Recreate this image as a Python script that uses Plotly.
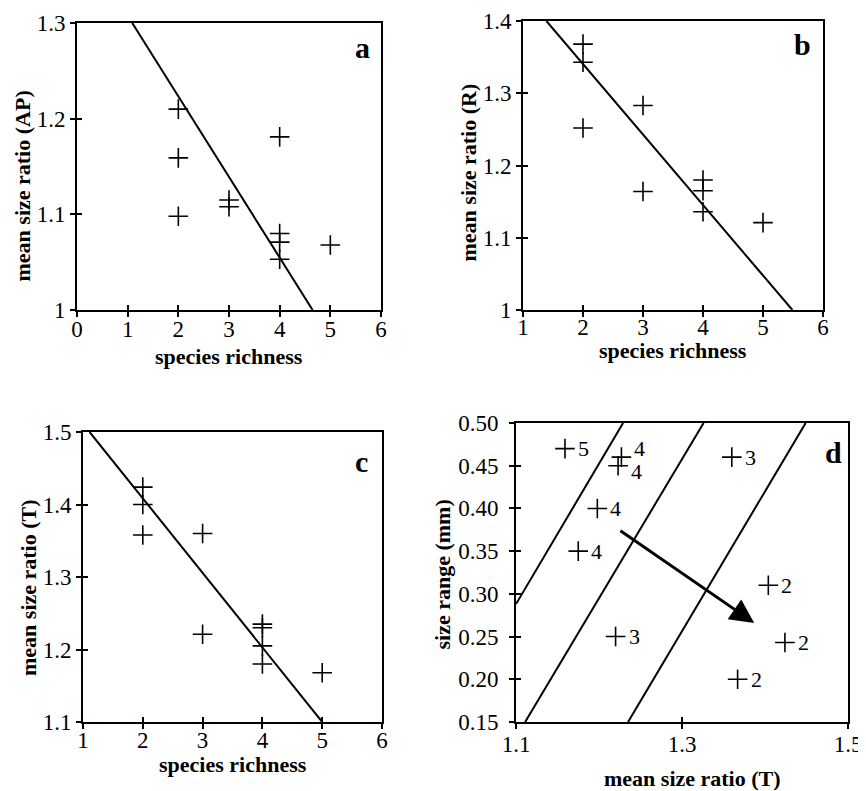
import plotly.graph_objects as go

FONT = "Liberation Serif, Times New Roman, serif"

# ---- data ----
# panel a
a_richness = [2, 2, 2, 3, 3, 4, 4, 4, 4, 5]
a_ratio = [1.210, 1.159, 1.098, 1.115, 1.108, 1.181, 1.080, 1.071, 1.053, 1.068]
a_fit_x = [1.09, 4.65]
a_fit_y = [1.30, 1.00]

# panel b
b_richness = [2, 2, 2, 3, 3, 4, 4, 4, 5]
b_ratio = [1.368, 1.343, 1.252, 1.283, 1.164, 1.180, 1.165, 1.136, 1.121]
b_fit_x = [1.39, 5.49]
b_fit_y = [1.40, 1.00]

# panel c
c_richness = [2, 2, 2, 3, 3, 4, 4, 4, 4, 5]
c_ratio = [1.424, 1.400, 1.358, 1.360, 1.221, 1.235, 1.230, 1.205, 1.180, 1.168]
c_fit_x = [1.11, 5.00]
c_fit_y = [1.50, 1.10]

# panel d
d_ratio = [1.159, 1.227, 1.223, 1.198, 1.175, 1.220, 1.360, 1.404, 1.424, 1.367]
d_range = [0.470, 0.460, 0.450, 0.400, 0.350, 0.250, 0.460, 0.310, 0.243, 0.200]
d_richness = [5, 4, 4, 4, 4, 3, 3, 2, 2, 2]
d_label_dy = [0, 9, -6, 0, 0, 0, 0, 0, 0, 0]
d_iso_x = [[1.100, 1.229], [1.111, 1.326], [1.235, 1.449]]
d_iso_y = [[0.288, 0.500], [0.150, 0.500], [0.150, 0.500]]
d_arrow_x = [1.224, 1.387]
d_arrow_y = [0.375, 0.266]


def ax_id(letter, n):
    return letter if n == 1 else f"{letter}{n}"


# ---- page geometry (the page body adds an 8px offset) ----
OFF = 8
FIG_W = 866 - OFF
FIG_H = 791 - OFF


def xdom(left, right):
    return [(left - OFF) / FIG_W, (right - OFF) / FIG_W]


def ydom(top, bottom):
    return [1 - (bottom - OFF) / FIG_H, 1 - (top - OFF) / FIG_H]


panels = [
    dict(xd=xdom(77, 381), yd=ydom(23, 310), xr=[0, 6], yr=[1.0, 1.3],
         xt=[0, 1, 2, 3, 4, 5, 6], yt=[1.0, 1.1, 1.2, 1.3], yfmt="",
         xso=3, yso=0,
         ytitle="mean size ratio (AP)", xtitle="species richness",
         letter="a", lx=0.94, ly=0.913, ytshift=-55, ytyshift=-20, xtshift=-46, xtx=0),
    dict(xd=xdom(523, 823), yd=ydom(21, 310), xr=[1, 6], yr=[1.0, 1.4],
         xt=[1, 2, 3, 4, 5, 6], yt=[1.0, 1.1, 1.2, 1.3, 1.4], yfmt="",
         xso=1, yso=0,
         ytitle="mean size ratio (R)", xtitle="species richness",
         letter="b", lx=0.933, ly=0.92, ytshift=-55, ytyshift=-7, xtshift=-40, xtx=0),
    dict(xd=xdom(83, 382), yd=ydom(432, 722), xr=[1, 6], yr=[1.1, 1.5],
         xt=[1, 2, 3, 4, 5, 6], yt=[1.1, 1.2, 1.3, 1.4, 1.5], yfmt="",
         xso=2, yso=0,
         ytitle="mean size ratio (T)", xtitle="species richness",
         letter="c", lx=0.933, ly=0.897, ytshift=-55, ytyshift=-11, xtshift=-42, xtx=0),
    dict(xd=xdom(516, 848), yd=ydom(423, 722), xr=[1.1, 1.5], yr=[0.15, 0.5],
         xt=[1.1, 1.3, 1.5], yt=[0.15, 0.2, 0.25, 0.3, 0.35, 0.4, 0.45, 0.5], yfmt=".2f",
         xso=6, yso=6,
         ytitle="size range (mm)", xtitle="mean size ratio (T)",
         letter="d", lx=0.955, ly=0.9, ytshift=-74, ytyshift=-2, xtshift=-56, xtx=10),
]

fig = go.Figure()

marker = dict(symbol="cross-thin", size=14, color="black", line=dict(width=1.6, color="black"))

scatter_data = [(a_richness, a_ratio), (b_richness, b_ratio), (c_richness, c_ratio)]
fit_data = [(a_fit_x, a_fit_y), (b_fit_x, b_fit_y), (c_fit_x, c_fit_y)]

for i in range(3):
    n = i + 1
    xs, ys = scatter_data[i]
    fx, fy = fit_data[i]
    fig.add_trace(go.Scatter(x=fx, y=fy, mode="lines", line=dict(color="black", width=2),
                             xaxis=ax_id("x", n), yaxis=ax_id("y", n), showlegend=False))
    fig.add_trace(go.Scatter(x=xs, y=ys, mode="markers", marker=marker,
                             xaxis=ax_id("x", n), yaxis=ax_id("y", n), showlegend=False,
                             cliponaxis=False))

for lx, ly in zip(d_iso_x, d_iso_y):
    fig.add_trace(go.Scatter(x=lx, y=ly, mode="lines", line=dict(color="black", width=2),
                             xaxis="x4", yaxis="y4", showlegend=False))
fig.add_trace(go.Scatter(x=d_ratio, y=d_range, mode="markers", marker=marker,
                         xaxis="x4", yaxis="y4", showlegend=False, cliponaxis=False))

# empty traces for overlay axes (inside ticks)
for i in range(4):
    fig.add_trace(go.Scatter(x=[], y=[], xaxis=f"x{i+5}", yaxis=f"y{i+5}", showlegend=False))

annotations = []
layout = dict(
    width=FIG_W, height=FIG_H,
    autosize=False,
    margin=dict(l=0, r=0, t=0, b=0, pad=0, autoexpand=False),
    paper_bgcolor="white", plot_bgcolor="white",
    font=dict(family=FONT, size=22, color="black"),
)

for i, p in enumerate(panels):
    n = i + 1
    m = i + 5
    common = dict(showgrid=False, zeroline=False, linecolor="black", linewidth=2,
                  tickcolor="black", tickwidth=1.5, ticklen=5, automargin=False)
    xk = "xaxis" if n == 1 else f"xaxis{n}"
    yk = "yaxis" if n == 1 else f"yaxis{n}"
    tf = dict(family=FONT, size=23, color="black")
    layout[xk] = dict(domain=p["xd"], range=p["xr"], anchor=ax_id("y", n), mirror=True,
                      showline=True, ticks="outside", tickvals=p["xt"],
                      showticklabels=False, **common)
    layout[yk] = dict(domain=p["yd"], range=p["yr"], anchor=ax_id("x", n), mirror=True,
                      showline=True, ticks="outside", tickvals=p["yt"],
                      tickformat=p["yfmt"], showticklabels=True, tickfont=tf,
                      ticklabelstandoff=p["yso"], **common)
    layout[f"xaxis{m}"] = dict(domain=p["xd"], range=p["xr"], anchor=f"y{m}",
                               overlaying=ax_id("x", n),
                               showline=False, ticks="inside", tickvals=p["xt"],
                               showticklabels=True, tickfont=tf,
                               ticklabelstandoff=p["xso"], **common)
    layout[f"yaxis{m}"] = dict(domain=p["yd"], range=p["yr"], anchor=f"x{m}",
                               overlaying=ax_id("y", n),
                               showline=False, ticks="inside", tickvals=p["yt"],
                               showticklabels=False, **common)
    xr = ax_id("x", n) + " domain"
    yr = ax_id("y", n) + " domain"
    annotations.append(dict(text=f"<b>{p['ytitle']}</b>", xref=xr, yref=yr,
                            x=0, y=0.5, xshift=p["ytshift"], yshift=p["ytyshift"], textangle=-90,
                            showarrow=False, xanchor="center", yanchor="middle",
                            font=dict(family=FONT, size=22, color="black")))
    annotations.append(dict(text=f"<b>{p['xtitle']}</b>", xref=xr, yref=yr,
                            x=0.5, y=0, yshift=p["xtshift"], xshift=p["xtx"],
                            showarrow=False, xanchor="center", yanchor="middle",
                            font=dict(family=FONT, size=22, color="black")))
    annotations.append(dict(text=f"<b>{p['letter']}</b>", xref=xr, yref=yr,
                            x=p["lx"], y=p["ly"], showarrow=False, xanchor="center",
                            yanchor="middle",
                            font=dict(family=FONT, size=30, color="black")))

# species-richness labels next to the points of panel d
for xv, yv, nv, dy in zip(d_ratio, d_range, d_richness, d_label_dy):
    annotations.append(dict(x=xv, y=yv, xref="x4", yref="y4", text=str(nv), showarrow=False,
                            xanchor="left", yanchor="middle", xshift=11, yshift=dy,
                            font=dict(family=FONT, size=22, color="black")))

annotations.append(dict(x=d_arrow_x[1], y=d_arrow_y[1], ax=d_arrow_x[0], ay=d_arrow_y[0],
                        xref="x4", yref="y4", axref="x4", ayref="y4", text="",
                        showarrow=True, arrowhead=2, arrowsize=1.6, arrowwidth=3,
                        arrowcolor="black"))

layout["annotations"] = annotations
fig.update_layout(**layout)

fig.write_html("out.html")
